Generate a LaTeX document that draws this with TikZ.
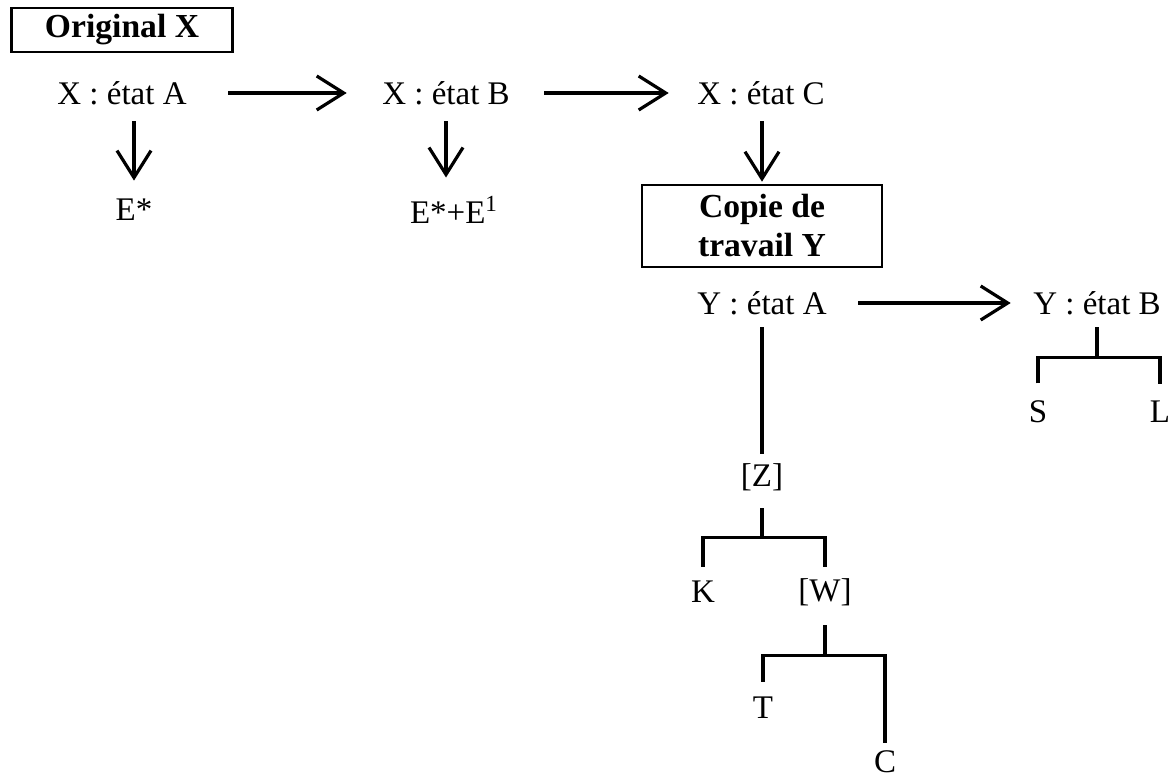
\documentclass[tikz,border=0pt]{standalone}
\usepackage{fontspec}
\setmainfont{Liberation Serif}
\usetikzlibrary{arrows.meta}
\definecolor{ink}{HTML}{000000}
\newcommand{\etat}[2]{#1 : état #2}

\begin{document}
\begin{tikzpicture}[x=0.5pt, y=-0.5pt, line width=1.6pt, draw=ink,
  every node/.style={inner sep=0pt, text=ink, font=\fontsize{16.5}{19.5}\selectfont},
  titre/.style={draw, line width=1.3pt, align=center, font=\fontsize{16.8}{19.5}\selectfont\bfseries},
  fleche/.style={-{Straight Barb[length=13.5pt,width=17pt]}}]
\useasboundingbox (0,0) rectangle (1173,780);
% 1. the original X and its three states
\node[titre, minimum width=110.5pt, minimum height=22pt] (origX) at (122,30) {Original X};
\node (xA) at (122,93) {\etat{X}{A}};
\node (xB) at (446,93) {\etat{X}{B}};
\node (xC) at (761,93) {\etat{X}{C}};
\node (eA) at (134,210) {E*};
\node (eB) at (454,210) {E*+E\textsuperscript{1}};
\draw[fleche, shorten <=20pt, shorten >=17pt] (xA) -- (xB);
\draw[fleche, shorten <=16.5pt, shorten >=13.5pt] (xB) -- (xC);
\draw[fleche, shorten <=7.5pt, shorten >=8.5pt] (xA.south -| eA) -- (eA.north);
\draw[fleche, shorten <=7.5pt, shorten >=8.5pt] (xB.south) -- (xB.south |- eB.north);
% 2. working copy Y taken from state C
\node[titre, minimum width=120pt, minimum height=41pt] (copieY) at (762,226) {Copie de\\travail Y};
\draw[fleche, shorten <=7.5pt, shorten >=1pt] (xC.south -| copieY) -- (copieY.north);
\node (yA) at (762,303) {\etat{Y}{A}};
\node (yB) at (1097,303) {\etat{Y}{B}};
\draw[fleche, shorten <=15pt, shorten >=10.5pt] (yA) -- (yB);
% 3. state B splits into S and L
\node (S) at (1038,412) {S};
\node (L) at (1160,412) {L};
\draw ([yshift=-5.5pt]yB.south) -- ++(0,30) coordinate (jB);
\draw ([yshift=8pt]S.north) |- (jB) -| ([yshift=8pt]L.north);
% 4. state A goes down to [Z], then [W]
\node (Z) at (762,477) {[Z]};
\node (K) at (703,592) {K};
\node (W) at (825,592) {[W]};
\node (T) at (763,708) {T};
\node (C) at (885,762) {C};
\draw ([yshift=-5.5pt]yA.south) -- ([yshift=3.75pt]Z.north);
\draw ([yshift=-8pt]Z.south) -- ++(0,29) coordinate (jZ);
\draw ([yshift=6.5pt]K.north) |- (jZ) -| ([yshift=4.75pt]W.north);
\draw ([yshift=-9pt]W.south) -- ++(0,30) coordinate (jW);
\draw ([yshift=7pt]T.north) |- (jW) -| ([yshift=3pt]C.north);
\end{tikzpicture}
\end{document}
